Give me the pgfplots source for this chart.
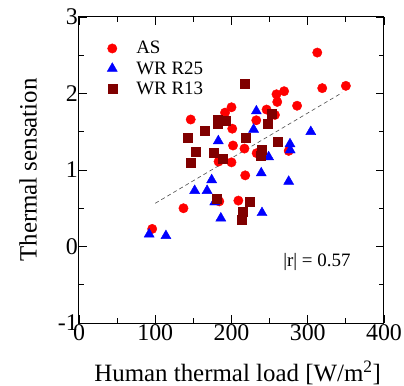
\documentclass[border=0pt]{standalone}
\usepackage{fontspec}
\setmainfont{Liberation Serif}
\usepackage{pgfplots}
\pgfplotsset{compat=1.18}
\definecolor{maroon}{RGB}{128,0,0}
\begin{document}
\begin{tikzpicture}
\begin{axis}[
  at={(0,0)}, anchor=south west,
  scale only axis, width=305bp, height=306bp,
  xmin=0, xmax=400, ymin=-1, ymax=3,
  xtick={0,100,...,400}, ytick={-1,0,1,2,3},
  xticklabels={0,100,200,300,400},
  yticklabels={-1,0,1,2,3},
  minor x tick num=1, minor y tick num=1,
  tick align=inside, major tick length=8bp, minor tick length=5bp,
  axis line style={line width=1bp},
  tick style={black, line width=0.8bp},
  ticklabel style={font=\rmfamily\fontsize{24}{26}\selectfont},
  yticklabel style={inner sep=1bp},
  xticklabel style={inner sep=1bp},
  xlabel={Human thermal load [W/m\textsuperscript{2}]},
  ylabel={Thermal sensation},
  label style={font=\rmfamily\fontsize{25}{28}\selectfont},
  xlabel style={at={(axis description cs:0.52,-0.163)}, anchor=center},
  ylabel style={at={(axis description cs:-0.167,0.5)}, anchor=center},
  legend style={draw=none, fill=none, inner sep=0pt,
    at={(axis description cs:0.092,0.924)}, anchor=north west,
    font=\rmfamily\fontsize{19}{21}\selectfont, row sep=4bp,
    nodes={inner sep=1bp},
    /tikz/every odd column/.append style={column sep=18bp}},
  legend cell align=left,
]
\addplot[only marks, mark=*, mark size=4.7bp, draw=red, fill=red] coordinates {
(312.5,2.535) (319,2.07) (350,2.10) (269,2.03) (259,1.99) (260,1.89)
(286,1.84) (200,1.82) (191.5,1.75) (246,1.79) (257,1.72) (146.5,1.66)
(232.5,1.65) (201,1.54) (202,1.32) (217,1.28) (233,1.22) (275,1.25)
(183,1.11) (200,1.10) (218,0.93) (137,0.50) (96,0.23) (209,0.60) (184,0.59)
};
\addlegendentry{AS}
\addplot[only marks, mark=triangle*, mark size=5.8bp, draw=blue, fill=blue] coordinates {
(232.6,1.77) (229,1.53) (304,1.50) (182.7,1.38) (276.7,1.34) (277,1.26)
(248.7,1.17) (239,0.96) (174,0.87) (275,0.85) (151.7,0.73) (168,0.73)
(178,0.58) (186,0.37) (240,0.44) (92,0.16) (114,0.14)
};
\addlegendentry{WR R25}
\addplot[only marks, mark=square*, mark size=4.5bp, draw=maroon, fill=maroon] coordinates {
(217.7,2.13) (182,1.66) (192.4,1.64) (182.3,1.61) (165,1.52) (143,1.42)
(218,1.42) (253,1.74) (247.5,1.60) (260,1.37) (152.6,1.24) (177,1.22)
(188.4,1.15) (146.5,1.09) (239.6,1.27) (238.7,1.19) (181,0.63) (224,0.59)
(215,0.46) (213,0.35)
};
\addlegendentry{WR R13}
\addplot[forget plot, black!70, line width=0.6bp, dash pattern=on 4bp off 3bp] coordinates {(100,0.565) (345,2.01)};
\node[font=\rmfamily\fontsize{19}{21}\selectfont] at (axis cs:312,-0.2) {|r| = 0.57};
\end{axis}
\pgfresetboundingbox
\path (-79bp,-63bp) rectangle (325bp,323bp);
\end{tikzpicture}
\end{document}
